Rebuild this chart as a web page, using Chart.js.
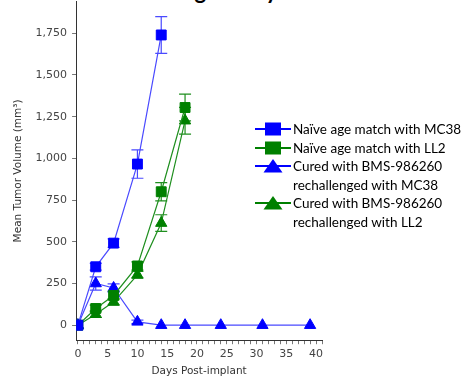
<!DOCTYPE html>
<html><head><meta charset="utf-8">
<script src="https://cdn.jsdelivr.net/npm/chart.js@4/dist/chart.umd.min.js"></script>
<style>
html,body{margin:0;padding:0;width:467px;height:380px;overflow:hidden;background:#fff;position:relative}
#wrap{position:absolute;left:0;top:-10px;width:467px;height:390px}
#title{position:absolute;top:-23px;left:100px;font:bold 22px Lato,"Liberation Sans",sans-serif;color:#000;white-space:nowrap}
#legend{position:absolute;left:254px;top:120px;font:13.5px Lato,"Open Sans",sans-serif;color:#000}
.row{display:flex;align-items:flex-start;height:18.5px;line-height:18.5px}
.row svg{flex:none;width:38px;height:18px;margin-right:1px}
.cont{padding-left:39px;height:18.5px;line-height:18.5px}
</style></head>
<body>
<div id="title">Rechallenge study</div>
<div id="wrap"><canvas id="c" width="467" height="390"></canvas></div>
<div id="legend"></div>
<script>
// ---- data ----
const seriesNames = ["Naïve age match with MC38","Naïve age match with LL2","Cured with BMS-986260 rechallenged with MC38","Cured with BMS-986260 rechallenged with LL2"];
const daysNaiveMC38 = [0,3,6,10,14];
const naiveMC38 = [0,350,492,966,1740];
const naiveMC38Err = [0,20,25,85,110];
const daysNaiveLL2 = [0,3,6,10,14,18];
const naiveLL2 = [0,100,178,355,800,1305];
const naiveLL2Err = [0,20,25,25,55,80];
const daysCuredMC38 = [0,3,6,10,14,18,24,31,39];
const curedMC38 = [0,250,223,20,0,0,0,0,0];
const curedMC38Err = [0,40,25,10,0,0,0,0,0];
const daysCuredLL2 = [0,3,6,10,14,18];
const curedLL2 = [0,66,140,302,612,1226];
const curedLL2Err = [0,20,20,20,50,80];
const yTicks = [0,250,500,750,1000,1250,1500,1750];
const xTicks = [0,5,10,15,20,25,30,35,40];

const BLUE='#0000ff', BLUE_L='#4a4aff', GREEN='#008000', GREEN_L='#1f8f1f';
function pts(xs,ys){return xs.map((x,i)=>({x:x,y:ys[i]}));}
const datasets=[
 {label:seriesNames[0],data:pts(daysNaiveMC38,naiveMC38),err:naiveMC38Err,borderColor:BLUE_L,backgroundColor:BLUE,pointBorderColor:BLUE,pointStyle:'rect',pointRadius:7},
 {label:seriesNames[1],data:pts(daysNaiveLL2,naiveLL2),err:naiveLL2Err,borderColor:GREEN_L,backgroundColor:GREEN,pointBorderColor:GREEN,pointStyle:'rect',pointRadius:7},
 {label:seriesNames[2],data:pts(daysCuredMC38,curedMC38),err:curedMC38Err,borderColor:BLUE_L,backgroundColor:BLUE,pointBorderColor:BLUE,pointStyle:'triangle',pointRadius:6.5},
 {label:seriesNames[3],data:pts(daysCuredLL2,curedLL2),err:curedLL2Err,borderColor:GREEN_L,backgroundColor:GREEN,pointBorderColor:GREEN,pointStyle:'triangle',pointRadius:6.5}
].map(d=>Object.assign({borderWidth:1.2,pointBorderWidth:1,tension:0,pointHoverRadius:d.pointRadius},d));

const errPlugin={id:'err',beforeDatasetsDraw(chart){
 const ctx=chart.ctx, ys=chart.scales.y;
 chart.data.datasets.forEach((ds,di)=>{
  const meta=chart.getDatasetMeta(di);
  ctx.save();ctx.strokeStyle=ds.borderColor;ctx.lineWidth=1.2;
  meta.data.forEach((p,i)=>{
   const e=ds.err[i]; if(!e) return;
   const v=ds.data[i].y, t=ys.getPixelForValue(v+e), b=ys.getPixelForValue(v-e), x=p.x;
   ctx.beginPath();ctx.moveTo(x,t);ctx.lineTo(x,b);
   ctx.moveTo(x-6,t);ctx.lineTo(x+6,t);ctx.moveTo(x-6,b);ctx.lineTo(x+6,b);ctx.stroke();
  });
  ctx.restore();
 });
}};

const tickFont={family:'"DejaVu Sans", Verdana, sans-serif',size:11};
new Chart(document.getElementById('c'),{
 type:'line',
 data:{datasets:datasets},
 options:{
  responsive:false,animation:false,
  layout:{padding:{left:12,right:145,top:0,bottom:0}},
  plugins:{legend:{display:false},tooltip:{enabled:false}},
  scales:{
   x:{type:'linear',min:-0.3,max:41,
      afterBuildTicks(s){const t=[];for(let i=0;i<=41;i++)t.push({value:i});s.ticks=t;},
      ticks:{autoSkip:false,maxRotation:0,font:tickFont,color:'#444',padding:3,
        callback:(v)=>xTicks.includes(v)?String(v):''},
      grid:{drawOnChartArea:false,drawTicks:true,tickLength:4,color:'#777'},
      border:{color:'#333',width:1},
      title:{display:true,text:'Days Post-implant',font:{family:'"DejaVu Sans", Verdana, sans-serif',size:10.5},color:'#333',padding:{top:2,bottom:2}}},
   y:{type:'linear',min:-90,max:1940,
      afterBuildTicks(s){s.ticks=yTicks.map(v=>({value:v}));},
      ticks:{font:tickFont,color:'#444',padding:5,callback:(v)=>v.toLocaleString('en-US')},
      grid:{drawOnChartArea:false,drawTicks:true,tickLength:4,color:'#777'},
      border:{color:'#333',width:1},
      title:{display:true,text:'Mean Tumor Volume (mm³)',font:{family:'"DejaVu Sans", Verdana, sans-serif',size:10.5},color:'#333',padding:{top:0,bottom:6}}}
  }
 },
 plugins:[errPlugin]
});

// legend (HTML)
const leg=document.getElementById('legend');
const icons=[
 [BLUE,'rect'],[GREEN,'rect'],[BLUE,'tri'],[GREEN,'tri']
];
const lines=[[seriesNames[0]],[seriesNames[1]],["Cured with BMS-986260","rechallenged with MC38"],["Cured with BMS-986260","rechallenged with LL2"]];
lines.forEach((ls,i)=>{
 const [c,s]=icons[i];
 const shape=s==='rect'?`<rect x="11" y="2.5" width="16" height="13" fill="${c}"/>`:`<polygon points="19,2 28.5,15.5 9.5,15.5" fill="${c}"/>`;
 const r=document.createElement('div');r.className='row';
 r.innerHTML=`<svg viewBox="0 0 38 18"><line x1="1" y1="9" x2="37" y2="9" stroke="${c}" stroke-width="2"/>${shape}</svg><span>${ls[0]}</span>`;
 leg.appendChild(r);
 for(let k=1;k<ls.length;k++){const d=document.createElement('div');d.className='cont';d.textContent=ls[k];leg.appendChild(d);}
});
</script>
</body></html>
